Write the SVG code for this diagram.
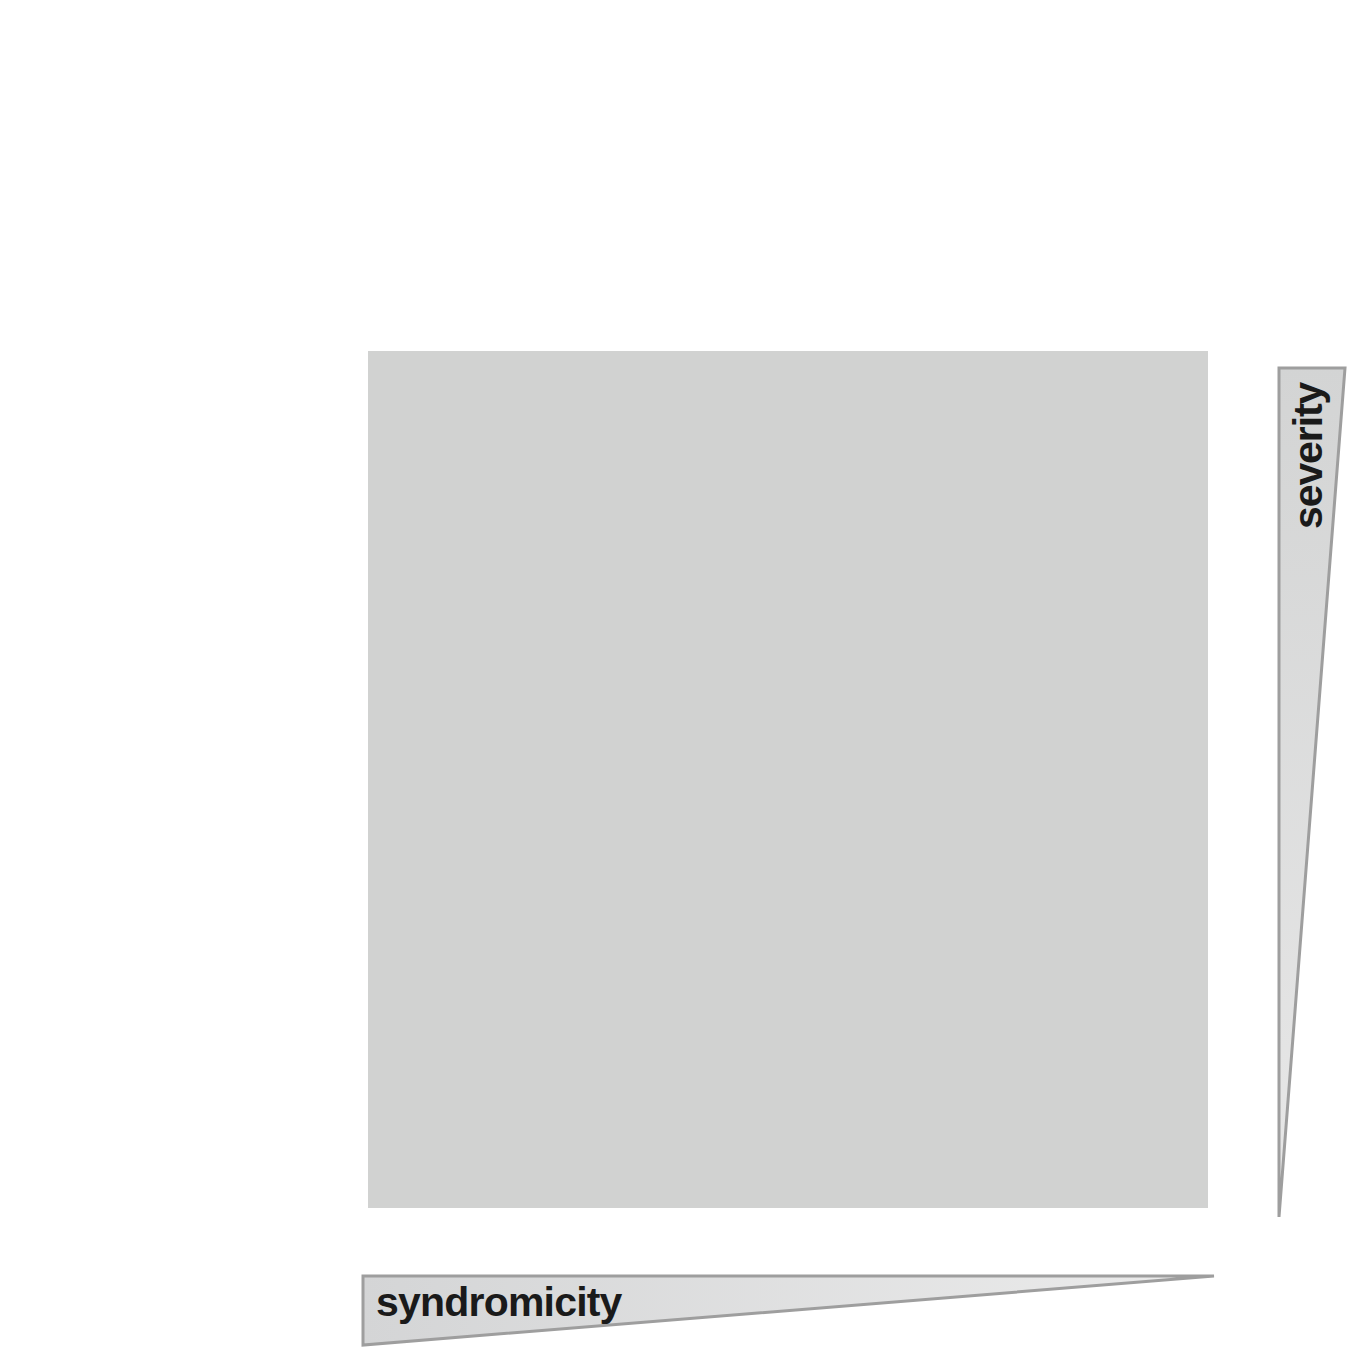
<svg xmlns="http://www.w3.org/2000/svg" width="1350" height="1350" viewBox="0 0 1350 1350">
<defs>
<style>
.wedge{stroke:#9e9e9e;stroke-width:3;}
.lbl{font-family:"Liberation Sans",Arial,sans-serif;font-weight:bold;font-size:41px;fill:#1a1a1a;letter-spacing:-0.8px;}
</style>
<linearGradient id="gv" x1="0" y1="0" x2="0" y2="1">
<stop offset="0" stop-color="#d3d4d4"/>
<stop offset="1" stop-color="#e8e8e8"/>
</linearGradient>
<linearGradient id="gh" x1="0" y1="0" x2="1" y2="0">
<stop offset="0" stop-color="#d4d5d6"/>
<stop offset="1" stop-color="#ececec"/>
</linearGradient>
</defs>
<rect width="1350" height="1350" fill="#ffffff"/>
<g id="plot">
<rect x="368" y="351" width="840" height="857" fill="#d1d2d1"/>
</g>
<g id="severity">
<polygon class="wedge" points="1279,368 1345,368 1279,1217" fill="url(#gv)"/>
<text class="lbl" transform="translate(1322,529) rotate(-90)" style="letter-spacing:-1.1px">severity</text>
</g>
<g id="syndromicity">
<polygon class="wedge" points="363,1276 1214,1276 363,1345" fill="url(#gh)"/>
<text class="lbl" x="376" y="1316">syndromicity</text>
</g>
<g id="connectors"></g>
</svg>
